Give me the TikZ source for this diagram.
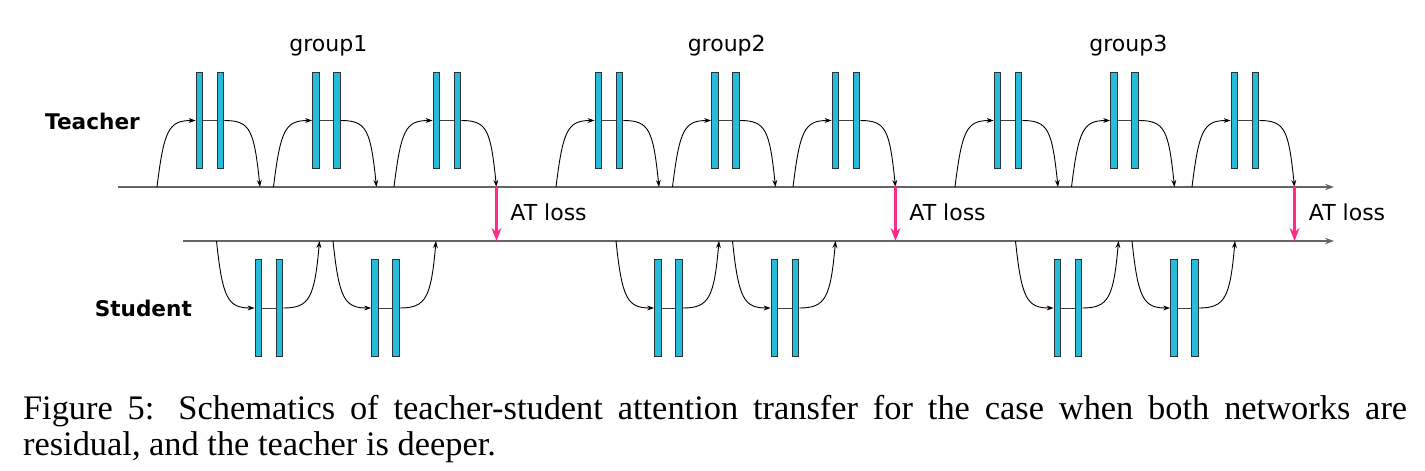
\documentclass[tikz,border=0pt]{standalone}
\usepackage{fontspec}
\setmainfont{Liberation Serif}
\setsansfont{DejaVu Sans}
\usetikzlibrary{arrows.meta}
\definecolor{barcyan}{RGB}{38,188,218}
\definecolor{bardark}{RGB}{40,52,58}
\definecolor{linegrey}{RGB}{100,100,100}
\definecolor{atpink}{RGB}{255,42,140}
\tikzset{
  bar/.style={draw=bardark,fill=barcyan,line width=0.55pt,inner sep=0pt,minimum width=3.3pt,minimum height=48.2pt},
  res/.style={black,line width=0.45pt,-{Stealth[length=3.5pt,width=2.4pt]}},
  mid/.style={black!75,line width=0.45pt},
  mainline/.style={linegrey,line width=0.9pt,-{Stealth[length=4.5pt,width=3.2pt]}},
  atloss/.style={atpink,line width=1.2pt,-{Stealth[length=6.5pt,width=5pt]}},
  lbl/.style={font=\sffamily\fontsize{11}{12}\selectfont,inner sep=0pt},
  bold lbl/.style={font=\sffamily\bfseries\fontsize{10.8}{12}\selectfont,inner sep=0pt}
}
\begin{document}
\begin{tikzpicture}[x=0.5pt,y=-0.5pt]
\useasboundingbox (0,0) rectangle (1425,471);
\node[bold lbl,anchor=base] (teacher) at (92.5,129.5) {Teacher};
\node[bold lbl,anchor=base] (student) at (143.3,316) {Student};
\node[lbl,anchor=base] (g1) at (328.3,51) {group1};
\node[lbl,anchor=base] (g2) at (726.7,51) {group2};
\node[lbl,anchor=base] (g3) at (1128.3,51) {group3};
\coordinate (tl0) at (118,187);
\coordinate (tl1) at (1334,187);
\coordinate (sl0) at (183,241);
\coordinate (sl1) at (1334,241);
\draw[mainline] (tl0) -- (tl1);
\draw[mainline] (sl0) -- (sl1);
% teacher
\node[bar] (t1a) at (199.5,120.5) {};
\node[bar] (t1b) at (220.5,120.5) {};
\coordinate (t1i) at (157,187);
\coordinate (t1o) at (260,187);
\draw[res] (t1i) .. controls +(7,-57) and +(-27,0) .. (t1a.west);
\draw[mid] (t1a) -- (t1b);
\draw[res] (t1b.east) .. controls +(26,0) and +(-6,-57) .. (t1o);
\node[bar] (t2a) at (316,120.5) {};
\node[bar] (t2b) at (337,120.5) {};
\coordinate (t2i) at (273.5,187);
\coordinate (t2o) at (376.5,187);
\draw[res] (t2i) .. controls +(7,-57) and +(-27,0) .. (t2a.west);
\draw[mid] (t2a) -- (t2b);
\draw[res] (t2b.east) .. controls +(26,0) and +(-6,-57) .. (t2o);
\node[bar] (t3a) at (436.5,120.5) {};
\node[bar] (t3b) at (457.5,120.5) {};
\coordinate (t3i) at (394,187);
\coordinate (t3o) at (496.5,187);
\draw[res] (t3i) .. controls +(7,-57) and +(-27,0) .. (t3a.west);
\draw[mid] (t3a) -- (t3b);
\draw[res] (t3b.east) .. controls +(26,0) and +(-6,-57) .. (t3o);
\node[bar] (t4a) at (598.5,120.5) {};
\node[bar] (t4b) at (619.5,120.5) {};
\coordinate (t4i) at (556,187);
\coordinate (t4o) at (659,187);
\draw[res] (t4i) .. controls +(7,-57) and +(-27,0) .. (t4a.west);
\draw[mid] (t4a) -- (t4b);
\draw[res] (t4b.east) .. controls +(26,0) and +(-6,-57) .. (t4o);
\node[bar] (t5a) at (715,120.5) {};
\node[bar] (t5b) at (736,120.5) {};
\coordinate (t5i) at (672.5,187);
\coordinate (t5o) at (775.5,187);
\draw[res] (t5i) .. controls +(7,-57) and +(-27,0) .. (t5a.west);
\draw[mid] (t5a) -- (t5b);
\draw[res] (t5b.east) .. controls +(26,0) and +(-6,-57) .. (t5o);
\node[bar] (t6a) at (835.5,120.5) {};
\node[bar] (t6b) at (856.5,120.5) {};
\coordinate (t6i) at (793,187);
\coordinate (t6o) at (895.5,187);
\draw[res] (t6i) .. controls +(7,-57) and +(-27,0) .. (t6a.west);
\draw[mid] (t6a) -- (t6b);
\draw[res] (t6b.east) .. controls +(26,0) and +(-6,-57) .. (t6o);
\node[bar] (t7a) at (997.5,120.5) {};
\node[bar] (t7b) at (1018.5,120.5) {};
\coordinate (t7i) at (955,187);
\coordinate (t7o) at (1058,187);
\draw[res] (t7i) .. controls +(7,-57) and +(-27,0) .. (t7a.west);
\draw[mid] (t7a) -- (t7b);
\draw[res] (t7b.east) .. controls +(26,0) and +(-6,-57) .. (t7o);
\node[bar] (t8a) at (1114,120.5) {};
\node[bar] (t8b) at (1135,120.5) {};
\coordinate (t8i) at (1071.5,187);
\coordinate (t8o) at (1174.5,187);
\draw[res] (t8i) .. controls +(7,-57) and +(-27,0) .. (t8a.west);
\draw[mid] (t8a) -- (t8b);
\draw[res] (t8b.east) .. controls +(26,0) and +(-6,-57) .. (t8o);
\node[bar] (t9a) at (1234.5,120.5) {};
\node[bar] (t9b) at (1255.5,120.5) {};
\coordinate (t9i) at (1192,187);
\coordinate (t9o) at (1294.5,187);
\draw[res] (t9i) .. controls +(7,-57) and +(-27,0) .. (t9a.west);
\draw[mid] (t9a) -- (t9b);
\draw[res] (t9b.east) .. controls +(26,0) and +(-6,-57) .. (t9o);
% student
\node[bar] (s1a) at (258.5,308) {};
\node[bar] (s1b) at (279.5,308) {};
\coordinate (s1i) at (216.5,241);
\coordinate (s1o) at (319.5,241);
\draw[res] (s1i) .. controls +(6,57) and +(-27,0) .. (s1a.west);
\draw[mid] (s1a) -- (s1b);
\draw[res] (s1b.east) .. controls +(26,0) and +(-5,57) .. (s1o);
\node[bar] (s2a) at (375,308) {};
\node[bar] (s2b) at (396,308) {};
\coordinate (s2i) at (333,241);
\coordinate (s2o) at (436,241);
\draw[res] (s2i) .. controls +(6,57) and +(-27,0) .. (s2a.west);
\draw[mid] (s2a) -- (s2b);
\draw[res] (s2b.east) .. controls +(26,0) and +(-5,57) .. (s2o);
\node[bar] (s3a) at (658,308) {};
\node[bar] (s3b) at (679,308) {};
\coordinate (s3i) at (616,241);
\coordinate (s3o) at (719,241);
\draw[res] (s3i) .. controls +(6,57) and +(-27,0) .. (s3a.west);
\draw[mid] (s3a) -- (s3b);
\draw[res] (s3b.east) .. controls +(26,0) and +(-5,57) .. (s3o);
\node[bar] (s4a) at (774.5,308) {};
\node[bar] (s4b) at (795.5,308) {};
\coordinate (s4i) at (732.5,241);
\coordinate (s4o) at (835.5,241);
\draw[res] (s4i) .. controls +(6,57) and +(-27,0) .. (s4a.west);
\draw[mid] (s4a) -- (s4b);
\draw[res] (s4b.east) .. controls +(26,0) and +(-5,57) .. (s4o);
\node[bar] (s5a) at (1057.5,308) {};
\node[bar] (s5b) at (1078.5,308) {};
\coordinate (s5i) at (1015.5,241);
\coordinate (s5o) at (1118.5,241);
\draw[res] (s5i) .. controls +(6,57) and +(-27,0) .. (s5a.west);
\draw[mid] (s5a) -- (s5b);
\draw[res] (s5b.east) .. controls +(26,0) and +(-5,57) .. (s5o);
\node[bar] (s6a) at (1174,308) {};
\node[bar] (s6b) at (1195,308) {};
\coordinate (s6i) at (1132,241);
\coordinate (s6o) at (1235,241);
\draw[res] (s6i) .. controls +(6,57) and +(-27,0) .. (s6a.west);
\draw[mid] (s6a) -- (s6b);
\draw[res] (s6b.east) .. controls +(26,0) and +(-5,57) .. (s6o);
% attention transfer
\coordinate (a1) at (496.5,241);
\coordinate (a2) at (895.5,241);
\coordinate (a3) at (1294.5,241);
\draw[atloss] (t3o) -- (a1);
\draw[atloss] (t6o) -- (a2);
\draw[atloss] (t9o) -- (a3);
\fill[atpink] (t3o) circle[radius=0.85pt];
\fill[atpink] (t6o) circle[radius=0.85pt];
\fill[atpink] (t9o) circle[radius=0.85pt];
\node[lbl,anchor=base west] (at1) at (510,220) {AT loss};
\node[lbl,anchor=base west] (at2) at (909,220) {AT loss};
\node[lbl,anchor=base west] (at3) at (1308.5,220) {AT loss};
\node[anchor=base west,inner sep=0pt,text width=692pt,align=justify,font=\fontsize{17.2}{18}\selectfont] (caption) at (22.7,419) {\tolerance=10000 Figure 5: Schematics of teacher-student attention transfer for the case when both networks are\break residual, and the teacher is deeper.};
\end{tikzpicture}
\end{document}
